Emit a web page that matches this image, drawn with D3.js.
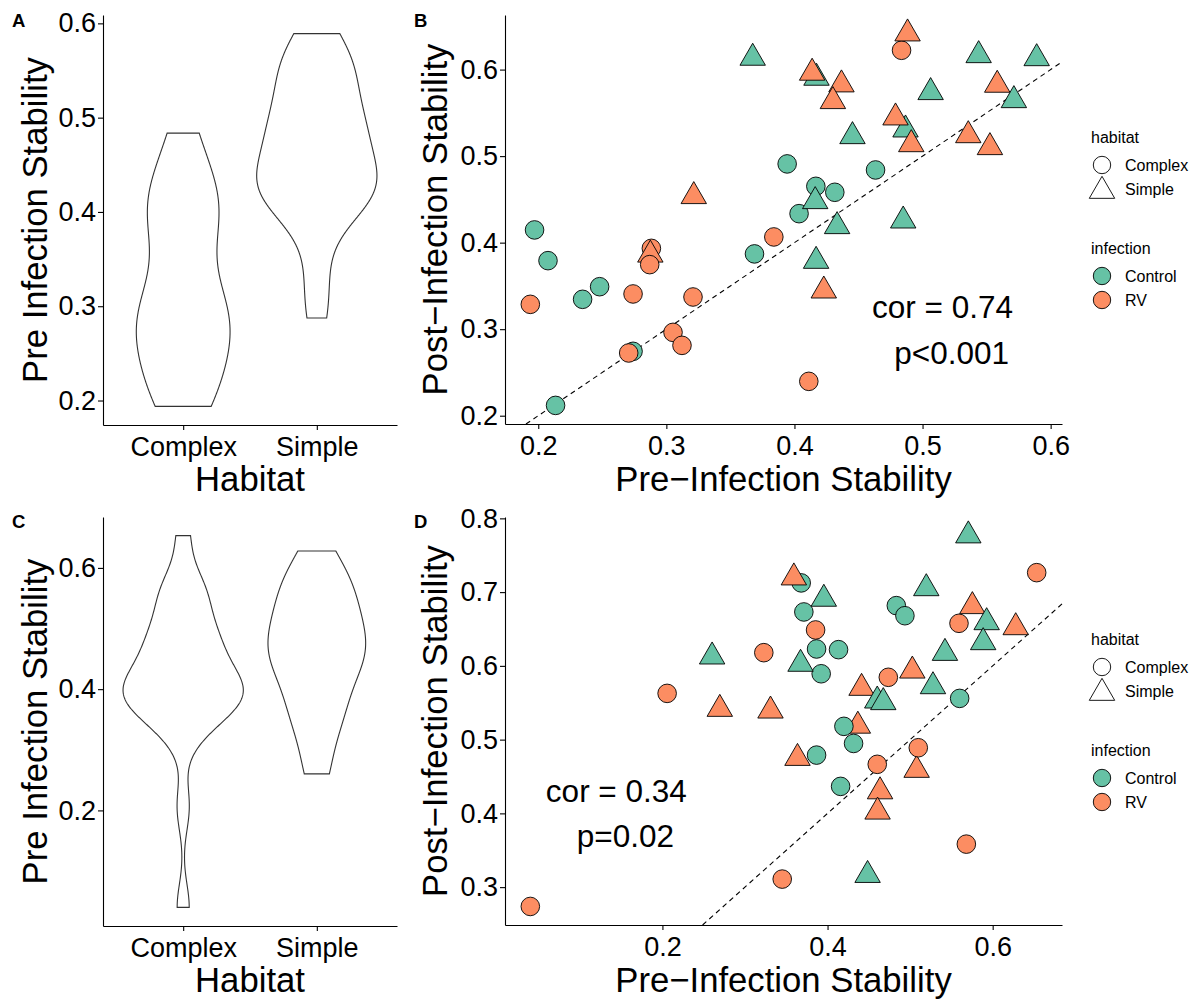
<!DOCTYPE html>
<meta charset="utf-8">
<style>
body { margin: 0; background: #fff; }
svg text { font-family: "Liberation Sans", Arial, sans-serif; }
</style>
<body>
<div id="chart"></div>
<script src="https://cdnjs.cloudflare.com/ajax/libs/d3/7.8.5/d3.min.js"></script>
<script>

// ---- data, first experiment (panels A and B) ----
var preB  = [0.3943, 0.1971, 0.2076, 0.3688, 0.4036, 0.2479, 0.2346, 0.2740, 0.2135, 0.4633, 0.4167, 0.4315,
             0.3674, 0.5438, 0.5891, 0.4172, 0.5063, 0.5713, 0.4867, 0.4453, 0.4162, 0.4333, 0.4849, 0.4169,
             0.2883, 0.3214, 0.2875, 0.2870, 0.3839, 0.1938, 0.2740, 0.3208, 0.3052, 0.3122, 0.2706, 0.4112,
             0.4836, 0.4883, 0.4138, 0.4367, 0.4300, 0.5583, 0.4789, 0.4912, 0.5357, 0.5526, 0.4229];
var postB = [0.4910, 0.4147, 0.3792, 0.3870, 0.4335, 0.3491, 0.3345, 0.2744, 0.2119, 0.4840, 0.4651, 0.4582,
             0.6135, 0.6165, 0.6130, 0.5904, 0.5738, 0.5645, 0.5306, 0.5229, 0.4478, 0.4189, 0.4254, 0.3788,
             0.3934, 0.4536, 0.3860, 0.3746, 0.4066, 0.3287, 0.3407, 0.3372, 0.2963, 0.2813, 0.2725, 0.2397,
             0.6223, 0.6416, 0.5962, 0.5827, 0.5634, 0.5823, 0.5445, 0.5136, 0.5240, 0.5102, 0.3445];
var habB  = ["Complex","Complex","Complex","Complex","Complex","Complex","Complex","Complex","Complex","Complex","Complex","Complex",
             "Simple","Simple","Simple","Simple","Simple","Simple","Simple","Simple","Simple","Simple","Simple","Simple",
             "Complex","Simple","Simple","Complex","Complex","Complex","Complex","Complex","Complex","Complex","Complex","Complex",
             "Complex","Simple","Simple","Simple","Simple","Simple","Simple","Simple","Simple","Simple","Simple"];
var infB  = ["Control","Control","Control","Control","Control","Control","Control","Control","Control","Control","Control","Control",
             "Control","Control","Control","Control","Control","Control","Control","Control","Control","Control","Control","Control",
             "RV","RV","RV","RV","RV","RV","RV","RV","RV","RV","RV","RV",
             "RV","RV","RV","RV","RV","RV","RV","RV","RV","RV","RV"];

// ---- data, second experiment (panels C and D) ----
var preD  = [0.3228, 0.2057, 0.3451, 0.0400, 0.6533, 0.5592, 0.3855, 0.4736, 0.4602, 0.5681,
             0.2695, 0.3309, 0.3636, 0.5754, 0.6279, 0.5027, 0.4412, 0.4367, 0.5079, 0.4636, 0.4606, 0.5099,
             0.3681, 0.3713, 0.4833, 0.4937, 0.3867, 0.4133, 0.3923, 0.5600, 0.4198, 0.4315, 0.4158, 0.3867,
             0.2602, 0.3673, 0.5705, 0.3955, 0.5196, 0.5927, 0.5885, 0.5422, 0.5277, 0.4602, 0.4675, 0.4485,
             0.3592];
var postD = [0.6179, 0.5627, 0.3109, 0.2738, 0.7264, 0.6577, 0.6487, 0.5845, 0.4665, 0.3583,
             0.5415, 0.5392, 0.4750, 0.6808, 0.6522, 0.5934, 0.5700, 0.5187, 0.4588, 0.4297, 0.4022, 0.4890,
             0.7125, 0.6731, 0.6817, 0.6680, 0.6229, 0.6220, 0.5893, 0.5559, 0.5180, 0.4948, 0.4366, 0.4790,
             0.6125, 0.6026, 0.7767, 0.6908, 0.7051, 0.6590, 0.6319, 0.6174, 0.5722, 0.5528, 0.5506, 0.3163,
             0.7197];
var habD  = ["Complex","Complex","Complex","Complex","Complex","Complex","Complex","Complex","Complex","Complex",
             "Simple","Simple","Simple","Simple","Simple","Simple","Simple","Simple","Simple","Simple","Simple","Complex",
             "Complex","Complex","Complex","Complex","Complex","Complex","Complex","Complex","Complex","Complex","Complex","Complex",
             "Simple","Simple","Simple","Simple","Simple","Simple","Simple","Simple","Simple","Simple","Simple","Simple",
             "Simple"];
var infD  = ["RV","RV","RV","RV","RV","RV","RV","RV","RV","RV",
             "RV","RV","RV","RV","RV","RV","RV","RV","RV","RV","RV","RV",
             "Control","Control","Control","Control","Control","Control","Control","Control","Control","Control","Control","Control",
             "Control","Control","Control","Control","Control","Control","Control","Control","Control","Control","Control","Control",
             "RV"];

var habitatLevels   = ["Complex", "Simple"];
var infectionLevels = ["Control", "RV"];
var infectionColours = ["#66C2A5", "#FC8D62"];

// tick values
var ticksAy = [0.2, 0.3, 0.4, 0.5, 0.6];
var ticksBx = [0.2, 0.3, 0.4, 0.5, 0.6];
var ticksBy = [0.2, 0.3, 0.4, 0.5, 0.6];
var ticksCy = [0.2, 0.4, 0.6];
var ticksDx = [0.2, 0.4, 0.6];
var ticksDy = [0.3, 0.4, 0.5, 0.6, 0.7, 0.8];

// correlation notes, placed in data units
var annB = ["cor = 0.74", "p<0.001"], annBx = [0.5156, 0.5227], annBy = [0.3133, 0.2601];
var annD = ["cor = 0.34", "p=0.02"],  annDx = [0.1442, 0.1552], annDy = [0.4153, 0.3543];

var MINUS = "\u2212";

var svg = d3.select("#chart").append("svg")
    .attr("width", 1197).attr("height", 1003);
svg.append("rect").attr("width", 1197).attr("height", 1003).attr("fill", "#fff");

var colour = d3.scaleOrdinal().domain(infectionLevels).range(infectionColours);
var triangle = d3.symbol().type(d3.symbolTriangle).size(280);

function expand(ext) {
  var r = ext[1] - ext[0];
  return [ext[0] - 0.05 * r, ext[1] + 0.05 * r];
}

// gaussian kernel density, bandwidth like R's bw.nrd0, trimmed to the data range
function kde(values, n) {
  var s = values.slice().sort(d3.ascending);
  var sd = d3.deviation(s);
  var iqr = d3.quantileSorted(s, 0.75) - d3.quantileSorted(s, 0.25);
  var bw = 0.9 * Math.min(sd, iqr / 1.34) * Math.pow(s.length, -0.2);
  var lo = s[0], hi = s[s.length - 1];
  return d3.range(n).map(function(i) {
    var t = lo + (hi - lo) * i / (n - 1);
    var dens = d3.mean(s, function(v) {
      var u = (t - v) / bw;
      return Math.exp(-0.5 * u * u) / Math.sqrt(2 * Math.PI);
    }) / bw;
    return [t, dens];
  });
}

function styleAxis(a) {
  a.attr("font-family", null).attr("font-size", 27);
  a.selectAll("text").attr("fill", "#000");
  a.select(".domain").attr("stroke", "#000").attr("stroke-width", 1.1);
  a.selectAll(".tick line").attr("stroke", "#000").attr("stroke-width", 1.1);
}

function axisTitle(g, txt, x, y, rotate) {
  g.append("text")
    .attr("transform", "translate(" + x + "," + y + ")" + (rotate ? " rotate(-90)" : ""))
    .attr("text-anchor", "middle")
    .attr("font-size", 34.7)
    .attr("fill", "#000")
    .text(txt);
}

function panelTag(txt, x, y) {
  svg.append("text").attr("x", x).attr("y", y)
    .attr("font-size", 18.5).attr("font-weight", 700).attr("fill", "#000")
    .text(txt);
}

function violinPanel(box, pre, hab, yTicks) {
  var g = svg.append("g");
  var x = d3.scaleLinear().domain([0.4, 2.6]).range([box.x0, box.x1]);
  var y = d3.scaleLinear().domain(expand(d3.extent(pre))).range([box.y1, box.y0]);

  var dens = habitatLevels.map(function(h) {
    return kde(pre.filter(function(d, i) { return hab[i] === h; }), 512);
  });
  var maxD = d3.max(dens, function(d) { return d3.max(d, function(p) { return p[1]; }); });
  var half = 0.45 * (x(2) - x(1));

  dens.forEach(function(d, k) {
    var cx = x(k + 1);
    var right = d.map(function(p) { return [cx + p[1] / maxD * half, y(p[0])]; });
    var left = d.slice().reverse().map(function(p) { return [cx - p[1] / maxD * half, y(p[0])]; });
    g.append("path")
      .attr("d", d3.line()(right.concat(left)) + "Z")
      .attr("fill", "#fff")
      .attr("stroke", "#333")
      .attr("stroke-width", 1.1);
  });

  var ax = g.append("g").attr("transform", "translate(0," + box.y1 + ")")
    .call(d3.axisBottom(x).tickValues([1, 2])
      .tickFormat(function(d) { return habitatLevels[d - 1]; })
      .tickSize(5).tickSizeOuter(0).tickPadding(7));
  styleAxis(ax);
  var ay = g.append("g").attr("transform", "translate(" + box.x0 + ",0)")
    .call(d3.axisLeft(y).tickValues(yTicks).tickFormat(d3.format(".1f"))
      .tickSize(5).tickSizeOuter(0).tickPadding(2));
  styleAxis(ay);

  axisTitle(g, "Habitat", (box.x0 + box.x1) / 2, box.y1 + 66);
  axisTitle(g, "Pre Infection Stability", box.x0 - 56, (box.y0 + box.y1) / 2, true);
}

function scatterPanel(box, pre, post, hab, inf, xTicks, yTicks, ann, annX, annY) {
  var g = svg.append("g");
  var xd = expand(d3.extent(pre)), yd = expand(d3.extent(post));
  var x = d3.scaleLinear().domain(xd).range([box.x0, box.x1]);
  var y = d3.scaleLinear().domain(yd).range([box.y1, box.y0]);

  // 1:1 reference line
  var t0 = Math.max(xd[0], yd[0]), t1 = Math.min(xd[1], yd[1]);
  g.append("line")
    .attr("x1", x(t0)).attr("y1", y(t0))
    .attr("x2", x(t1)).attr("y2", y(t1))
    .attr("stroke", "#000").attr("stroke-width", 1.1)
    .attr("stroke-dasharray", "5,4");

  pre.forEach(function(v, i) {
    var px = x(v), py = y(post[i]);
    var mark;
    if (hab[i] === "Complex") {
      mark = g.append("circle").attr("cx", px).attr("cy", py).attr("r", 9.3);
    } else {
      mark = g.append("path").attr("d", triangle())
        .attr("transform", "translate(" + px + "," + py + ")");
    }
    mark.attr("fill", colour(inf[i])).attr("stroke", "#000").attr("stroke-width", 0.9);
  });

  ann.forEach(function(t, i) {
    g.append("text").attr("x", x(annX[i])).attr("y", y(annY[i]))
      .attr("text-anchor", "middle").attr("font-size", 31.5).attr("fill", "#000")
      .text(t);
  });

  var ax = g.append("g").attr("transform", "translate(0," + box.y1 + ")")
    .call(d3.axisBottom(x).tickValues(xTicks).tickFormat(d3.format(".1f"))
      .tickSize(5).tickSizeOuter(0).tickPadding(7));
  styleAxis(ax);
  var ay = g.append("g").attr("transform", "translate(" + box.x0 + ",0)")
    .call(d3.axisLeft(y).tickValues(yTicks).tickFormat(d3.format(".1f"))
      .tickSize(5).tickSizeOuter(0).tickPadding(2));
  styleAxis(ay);

  axisTitle(g, "Pre" + MINUS + "Infection Stability", (box.x0 + box.x1) / 2, box.y1 + 67);
  axisTitle(g, "Post" + MINUS + "Infection Stability", box.x0 - 58, (box.y0 + box.y1) / 2, true);

  // legends
  var lg = svg.append("g").attr("transform", "translate(1091," + box.y0 + ")");
  lg.append("text").attr("x", 0).attr("y", 128).attr("font-size", 16).text("habitat");
  habitatLevels.forEach(function(h, i) {
    var ky = 150 + i * 24;
    if (i === 0) {
      lg.append("circle").attr("cx", 11).attr("cy", ky).attr("r", 8.7);
    } else {
      lg.append("path").attr("d", triangle()).attr("transform", "translate(11," + (ky + 2) + ")");
    }
    lg.selectAll(":last-child").attr("fill", "#fff").attr("stroke", "#000").attr("stroke-width", 0.9);
    lg.append("text").attr("x", 34).attr("y", ky + 6).attr("font-size", 16).text(h);
  });
  lg.append("text").attr("x", 0).attr("y", 239).attr("font-size", 16).text("infection");
  infectionLevels.forEach(function(f, i) {
    var ky = 261 + i * 24;
    lg.append("circle").attr("cx", 11).attr("cy", ky).attr("r", 8.7)
      .attr("fill", colour(f)).attr("stroke", "#000").attr("stroke-width", 0.9);
    lg.append("text").attr("x", 34).attr("y", ky + 6).attr("font-size", 16).text(f);
  });
}

violinPanel({x0: 103, x1: 397, y0: 15, y1: 425}, preB, habB, ticksAy);
scatterPanel({x0: 505, x1: 1062, y0: 15, y1: 424}, preB, postB, habB, infB, ticksBx, ticksBy, annB, annBx, annBy);
violinPanel({x0: 103, x1: 397, y0: 517, y1: 926}, preD, habD, ticksCy);
scatterPanel({x0: 505, x1: 1062, y0: 517, y1: 925}, preD, postD, habD, infD, ticksDx, ticksDy, annD, annDx, annDy);

panelTag("A", 12, 27);
panelTag("B", 414, 27);
panelTag("C", 12, 528);
panelTag("D", 414, 528);

</script>
